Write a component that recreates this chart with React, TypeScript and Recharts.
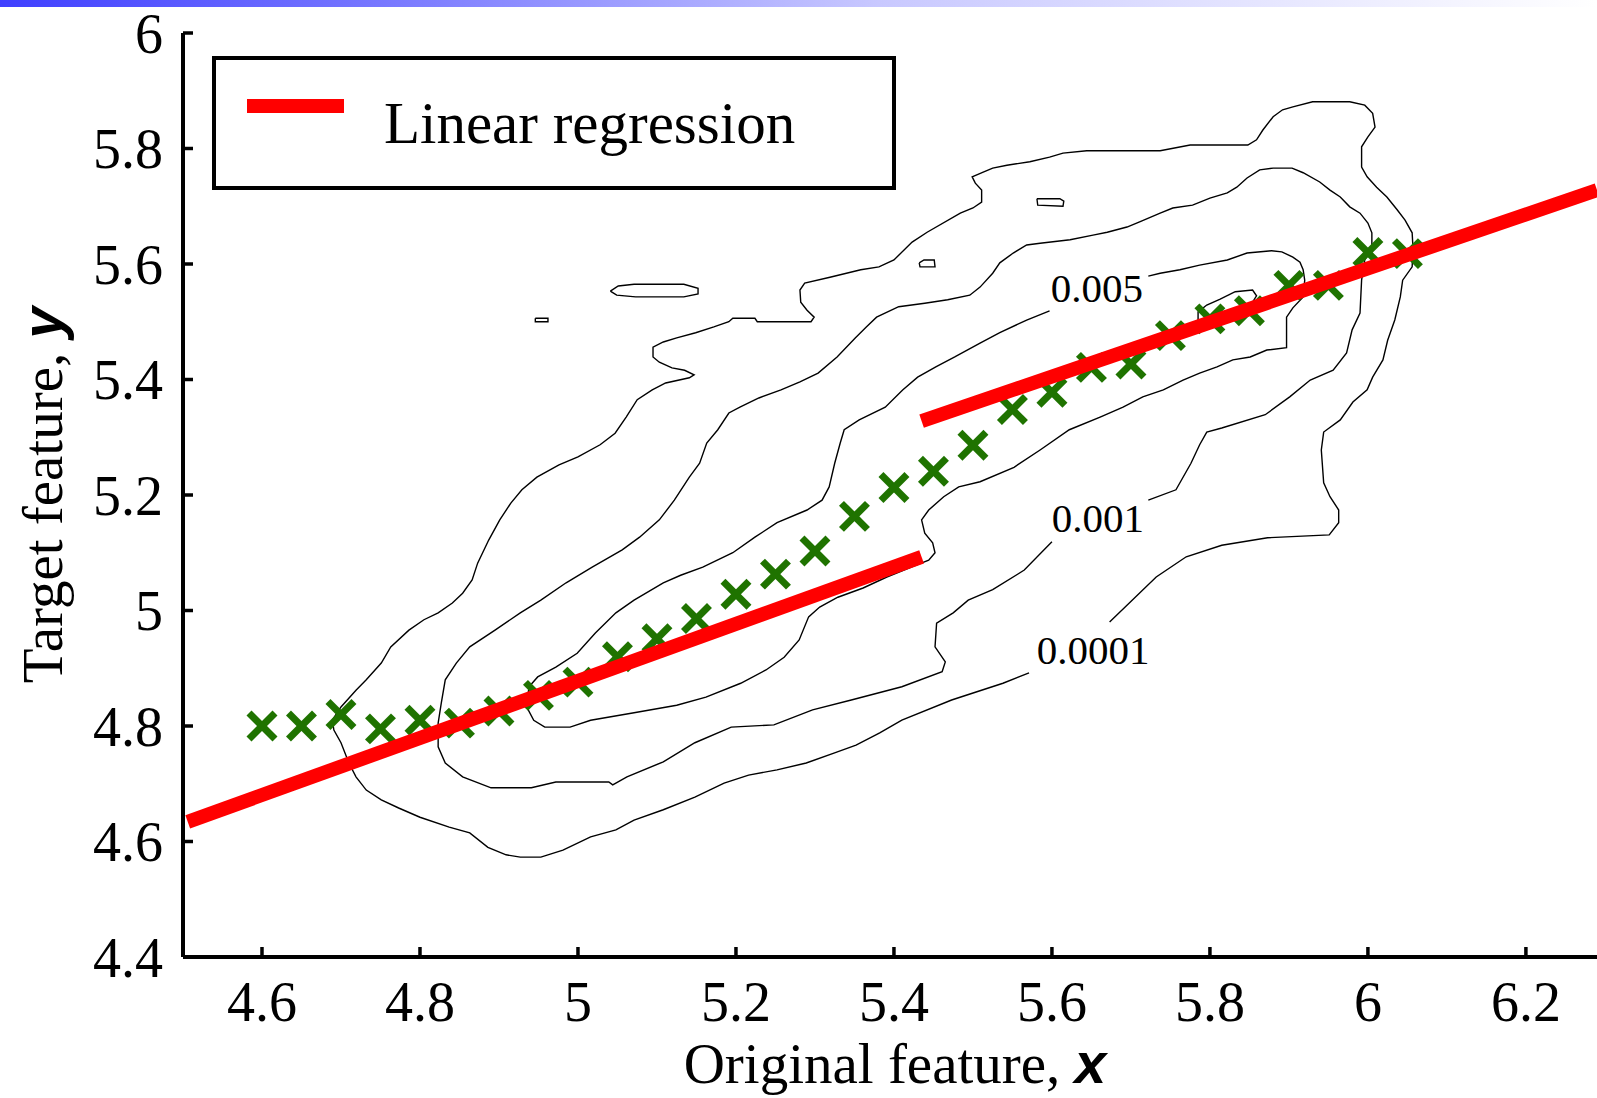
import React from "react";
import { ScatterChart, Scatter, XAxis, YAxis, Legend, Label } from "recharts";

type Pt = [number, number];

const xTicks = [4.6, 4.8, 5, 5.2, 5.4, 5.6, 5.8, 6, 6.2];
const yTicks = [4.4, 4.6, 4.8, 5, 5.2, 5.4, 5.6, 5.8, 6];

// binned means of y for each x bin (green crosses)
const binCentres = [
  4.6, 4.65, 4.7, 4.75, 4.8, 4.85, 4.9, 4.95, 5.0, 5.05, 5.1, 5.15, 5.2, 5.25, 5.3,
  5.35, 5.4, 5.45, 5.5, 5.55, 5.6, 5.65, 5.7, 5.75, 5.8, 5.85, 5.9, 5.95, 6.0, 6.05,
];
const binMeans = [
  4.8, 4.8, 4.82, 4.795, 4.81, 4.805, 4.826, 4.853, 4.876, 4.92, 4.951, 4.986, 5.028, 5.063, 5.103,
  5.163, 5.213, 5.241, 5.286, 5.348, 5.378, 5.421, 5.427, 5.476, 5.505, 5.519, 5.563, 5.563, 5.62, 5.618,
];

// two linear fits
const fitLow: Pt[] = [[4.506, 4.634], [5.435, 5.093]];
const fitHigh: Pt[] = [[5.435, 5.328], [6.29, 5.728]];

// density contours (open where the level label sits)
const contour0001: Pt[] = [
  [5.673, 4.98], [5.732, 5.058], [5.77, 5.093], [5.815, 5.113], [5.873, 5.126], [5.951, 5.131],
  [5.963, 5.152], [5.963, 5.174], [5.952, 5.197], [5.944, 5.221], [5.941, 5.278], [5.944, 5.309],
  [5.965, 5.33], [5.981, 5.361], [5.999, 5.382], [6.006, 5.404], [6.019, 5.434], [6.025, 5.468],
  [6.034, 5.503], [6.041, 5.543], [6.044, 5.572], [6.056, 5.595], [6.057, 5.629], [6.056, 5.654],
  [6.047, 5.676], [6.037, 5.694], [6.024, 5.716], [6.011, 5.733], [5.999, 5.751], [5.992, 5.768],
  [5.992, 5.803], [6.0, 5.82], [6.009, 5.837], [6.006, 5.861], [5.996, 5.875], [5.977, 5.881],
  [5.93, 5.881], [5.905, 5.872], [5.892, 5.867], [5.88, 5.855], [5.867, 5.832], [5.859, 5.815],
  [5.848, 5.806], [5.775, 5.806], [5.737, 5.796], [5.644, 5.796], [5.614, 5.792], [5.597, 5.785],
  [5.572, 5.777], [5.543, 5.771], [5.525, 5.766], [5.513, 5.759], [5.499, 5.751], [5.503, 5.74],
  [5.511, 5.728], [5.511, 5.707], [5.5, 5.697], [5.484, 5.688], [5.442, 5.655], [5.423, 5.638],
  [5.4, 5.607], [5.381, 5.595], [5.358, 5.59], [5.319, 5.577], [5.287, 5.567], [5.281, 5.555],
  [5.282, 5.534], [5.29, 5.52], [5.299, 5.508], [5.295, 5.5], [5.227, 5.5], [5.224, 5.506],
  [5.196, 5.506], [5.191, 5.5], [5.172, 5.491], [5.149, 5.481], [5.125, 5.472], [5.108, 5.465],
  [5.095, 5.456], [5.095, 5.439], [5.103, 5.43], [5.119, 5.42], [5.135, 5.416], [5.147, 5.408],
  [5.141, 5.403], [5.111, 5.394], [5.094, 5.382], [5.075, 5.365], [5.061, 5.335], [5.047, 5.307],
  [5.028, 5.287], [5.0, 5.266], [4.976, 5.252], [4.948, 5.231], [4.929, 5.209], [4.915, 5.186],
  [4.901, 5.157], [4.887, 5.122], [4.873, 5.082], [4.866, 5.053], [4.854, 5.03], [4.841, 5.013],
  [4.823, 4.996], [4.805, 4.984], [4.786, 4.966], [4.763, 4.937], [4.751, 4.909], [4.732, 4.88],
  [4.719, 4.862], [4.7, 4.833], [4.689, 4.81], [4.691, 4.793], [4.7, 4.771], [4.71, 4.736],
  [4.719, 4.712], [4.732, 4.689], [4.751, 4.672], [4.773, 4.658], [4.8, 4.642], [4.837, 4.625],
  [4.863, 4.615], [4.886, 4.59], [4.909, 4.577], [4.927, 4.573], [4.953, 4.573], [4.981, 4.585],
  [5.016, 4.608], [5.048, 4.62], [5.071, 4.637], [5.108, 4.655], [5.148, 4.677], [5.185, 4.701],
  [5.216, 4.715], [5.252, 4.724], [5.289, 4.736], [5.324, 4.753], [5.352, 4.767], [5.382, 4.788],
  [5.41, 4.81], [5.473, 4.845], [5.538, 4.874], [5.571, 4.892],
];

const contour001: Pt[] = [
  [5.722, 5.191], [5.757, 5.209], [5.776, 5.255], [5.787, 5.287], [5.796, 5.309], [5.815, 5.316],
  [5.87, 5.339], [5.901, 5.37], [5.927, 5.399], [5.956, 5.416], [5.973, 5.446], [5.98, 5.486],
  [5.99, 5.515], [5.992, 5.572], [5.996, 5.607], [6.005, 5.629], [6.005, 5.654], [6.0, 5.671],
  [5.99, 5.688], [5.977, 5.699], [5.965, 5.716], [5.952, 5.728], [5.939, 5.742], [5.918, 5.758],
  [5.904, 5.766], [5.88, 5.766], [5.863, 5.763], [5.847, 5.749], [5.834, 5.733], [5.822, 5.723],
  [5.8, 5.714], [5.778, 5.702], [5.753, 5.697], [5.737, 5.688], [5.711, 5.673], [5.695, 5.664],
  [5.67, 5.655], [5.652, 5.65], [5.623, 5.642], [5.585, 5.636], [5.568, 5.633], [5.551, 5.619],
  [5.534, 5.602], [5.525, 5.584], [5.509, 5.56], [5.496, 5.546], [5.468, 5.538], [5.439, 5.532],
  [5.406, 5.526], [5.378, 5.508], [5.365, 5.491], [5.351, 5.472], [5.328, 5.439], [5.304, 5.411],
  [5.281, 5.396], [5.257, 5.382], [5.229, 5.368], [5.205, 5.352], [5.191, 5.342], [5.177, 5.313],
  [5.163, 5.29], [5.154, 5.255], [5.141, 5.231], [5.122, 5.191], [5.103, 5.157], [5.078, 5.127],
  [5.056, 5.105], [5.018, 5.075], [4.985, 5.048], [4.953, 5.018], [4.927, 4.996], [4.895, 4.966],
  [4.863, 4.937], [4.846, 4.909], [4.832, 4.88], [4.827, 4.84], [4.823, 4.805], [4.823, 4.764],
  [4.832, 4.736], [4.854, 4.712], [4.89, 4.693], [4.941, 4.693], [4.972, 4.703], [5.039, 4.703],
  [5.044, 4.698], [5.062, 4.712], [5.108, 4.738], [5.148, 4.771], [5.194, 4.798], [5.248, 4.802],
  [5.297, 4.828], [5.346, 4.845], [5.41, 4.868], [5.461, 4.894], [5.465, 4.911], [5.452, 4.937],
  [5.454, 4.978], [5.475, 4.996], [5.494, 5.018], [5.525, 5.036], [5.565, 5.07], [5.6, 5.119],
];

const contour005: Pt[] = [
  [5.722, 5.579], [5.737, 5.584], [5.762, 5.59], [5.787, 5.598], [5.822, 5.607], [5.847, 5.619],
  [5.878, 5.623], [5.891, 5.621], [5.905, 5.612], [5.914, 5.603], [5.918, 5.59], [5.92, 5.572],
  [5.918, 5.543], [5.905, 5.524], [5.897, 5.508], [5.897, 5.455], [5.872, 5.451], [5.851, 5.439],
  [5.829, 5.434], [5.809, 5.422], [5.787, 5.411], [5.766, 5.399], [5.741, 5.382], [5.715, 5.37],
  [5.69, 5.352], [5.661, 5.335], [5.622, 5.313], [5.585, 5.278], [5.552, 5.248], [5.509, 5.223],
  [5.482, 5.214], [5.463, 5.197], [5.444, 5.174], [5.435, 5.157], [5.439, 5.134], [5.449, 5.117],
  [5.452, 5.1], [5.444, 5.087], [5.422, 5.075], [5.391, 5.058], [5.361, 5.039], [5.329, 5.023],
  [5.306, 5.006], [5.292, 4.989], [5.28, 4.949], [5.261, 4.919], [5.238, 4.897], [5.206, 4.874],
  [5.162, 4.85], [5.125, 4.836], [5.071, 4.823], [5.016, 4.81], [4.99, 4.798], [4.958, 4.798],
  [4.944, 4.81], [4.935, 4.833], [4.938, 4.868], [4.949, 4.885], [4.972, 4.902], [4.999, 4.926],
  [5.022, 4.961], [5.048, 4.996], [5.071, 5.018], [5.108, 5.048], [5.13, 5.061], [5.158, 5.075],
  [5.196, 5.1], [5.224, 5.127], [5.252, 5.152], [5.29, 5.174], [5.309, 5.191], [5.318, 5.214],
  [5.325, 5.255], [5.332, 5.29], [5.337, 5.313], [5.356, 5.33], [5.389, 5.352], [5.411, 5.382],
  [5.43, 5.404], [5.453, 5.422], [5.477, 5.439], [5.509, 5.463], [5.534, 5.481], [5.568, 5.503],
  [5.597, 5.519],
];

const contourPeak: Pt[] = [
  [5.785, 5.5], [5.785, 5.517], [5.796, 5.529], [5.813, 5.539], [5.832, 5.552], [5.854, 5.555],
  [5.859, 5.545], [5.853, 5.532], [5.838, 5.52], [5.819, 5.51], [5.8, 5.5], [5.785, 5.5],
];

const islands: Pt[][] = [
  [[5.041, 5.553], [5.051, 5.562], [5.071, 5.565], [5.134, 5.565], [5.152, 5.558], [5.152, 5.548],
   [5.134, 5.543], [5.073, 5.543], [5.049, 5.546], [5.041, 5.553]],
  [[4.946, 5.506], [4.962, 5.506], [4.962, 5.5], [4.946, 5.5], [4.946, 5.506]],
  [[5.581, 5.713], [5.582, 5.702], [5.614, 5.7], [5.615, 5.709], [5.61, 5.713], [5.581, 5.713]],
  [[5.432, 5.602], [5.438, 5.607], [5.451, 5.607], [5.452, 5.595], [5.433, 5.595], [5.432, 5.602]],
];

const contourLabels = [
  { x: 5.657, y: 5.559, text: "0.005" },
  { x: 5.658, y: 5.161, text: "0.001" },
  { x: 5.652, y: 4.932, text: "0.0001" },
];

const SERIF = "'Liberation Serif', 'Times New Roman', serif";
const SANS = "'Liberation Sans', Arial, sans-serif";
const GREEN = "#1f7300";
const RED = "#ff0000";

const toXY = (pts: Pt[]) => pts.map(([x, y]) => ({ x, y }));
const binData = binCentres.map((x, i) => ({ x, y: binMeans[i] }));

const noDot = () => <g />;

const CrossMark = (props: any) => {
  const { cx, cy } = props;
  const s = 13;
  return (
    <g stroke={GREEN} strokeWidth={7}>
      <line x1={cx - s} y1={cy - s} x2={cx + s} y2={cy + s} />
      <line x1={cx - s} y1={cy + s} x2={cx + s} y2={cy - s} />
    </g>
  );
};

const LevelText = (props: any) => {
  const { cx, cy, payload } = props;
  return (
    <text x={cx} y={cy} dy="0.35em" textAnchor="middle" fontFamily={SERIF} fontSize={41} fill="#000">
      {payload.text}
    </text>
  );
};

const XTitle = (props: any) => {
  const vb = props.viewBox || { x: 183, y: 957 };
  return (
    <text x={vb.x + 712} y={vb.y + 126} textAnchor="middle" fontFamily={SERIF} fontSize={57} fill="#000">
      Original feature,{" "}
      <tspan fontFamily={SANS} fontStyle="italic" fontWeight="bold">x</tspan>
    </text>
  );
};

const YTitle = (props: any) => {
  const vb = props.viewBox || { x: 0, y: 33, height: 924 };
  const tx = vb.x + 62;
  const ty = vb.y + vb.height / 2;
  return (
    <text x={tx} y={ty} transform={`rotate(-90, ${tx}, ${ty})`} textAnchor="middle" fontFamily={SERIF} fontSize={57} fill="#000">
      Target feature,{" "}
      <tspan fontFamily={SANS} fontStyle="italic" fontWeight="bold">y</tspan>
    </text>
  );
};

const LegendBox = (props: any) => {
  const entry = (props.payload || []).find((p: any) => p.value === "Linear regression");
  const colour = entry?.color || RED;
  return (
    <svg width={684} height={134}>
      <rect x={2} y={2} width={680} height={130} fill="#fff" stroke="#000" strokeWidth={4} />
      <line x1={35} y1={50} x2={132} y2={50} stroke={colour} strokeWidth={14} />
      <text x={172} y={87} fontFamily={SERIF} fontSize={59} fill="#000">
        Linear regression
      </text>
    </svg>
  );
};

export default function App() {
  const contourLine = { stroke: "#000", strokeWidth: 1.4 };
  return (
    <div style={{ position: "absolute", left: 0, top: 0, width: 1597, height: 1098, background: "#fff", overflow: "hidden" }}>
      <div style={{ position: "absolute", left: 0, top: 0, width: 1597, height: 7, background: "linear-gradient(to right, #3f3fff, #7a7aff 25%, #c8c8ff 55%, #ffffff)" }} />
      <ScatterChart width={1597} height={1098} margin={{ top: 33, right: 0, bottom: 0, left: 0 }}>
        <XAxis
          type="number"
          dataKey="x"
          domain={[4.5, 6.29]}
          allowDataOverflow
          ticks={xTicks}
          interval={0}
          height={141}
          axisLine={{ stroke: "#000", strokeWidth: 4 }}
          tickLine={{ stroke: "#000", strokeWidth: 3.5 }}
          tickSize={-10}
          tickMargin={34}
          tick={{ fontFamily: SERIF, fontSize: 56, fill: "#000" }}
        >
          <Label content={XTitle} />
        </XAxis>
        <YAxis
          type="number"
          dataKey="y"
          domain={[4.4, 6]}
          allowDataOverflow
          ticks={yTicks}
          interval={0}
          width={183}
          axisLine={{ stroke: "#000", strokeWidth: 4 }}
          tickLine={{ stroke: "#000", strokeWidth: 3.5 }}
          tickSize={-10}
          tickMargin={30}
          tick={{ fontFamily: SERIF, fontSize: 56, fill: "#000" }}
        >
          <Label content={YTitle} />
        </YAxis>

        <Scatter name="p=0.0001" data={toXY(contour0001)} line={contourLine} shape={noDot} legendType="none" isAnimationActive={false} />
        <Scatter name="p=0.001" data={toXY(contour001)} line={contourLine} shape={noDot} legendType="none" isAnimationActive={false} />
        <Scatter name="p=0.005" data={toXY(contour005)} line={contourLine} shape={noDot} legendType="none" isAnimationActive={false} />
        <Scatter name="peak" data={toXY(contourPeak)} line={contourLine} shape={noDot} legendType="none" isAnimationActive={false} />
        {islands.map((isl, i) => (
          <Scatter key={i} name={`island${i}`} data={toXY(isl)} line={contourLine} shape={noDot} legendType="none" isAnimationActive={false} />
        ))}
        <Scatter name="levels" data={contourLabels} shape={LevelText} legendType="none" isAnimationActive={false} />

        <Scatter name="Binned mean" data={binData} shape={CrossMark} legendType="none" isAnimationActive={false} />

        <Scatter name="Linear regression" data={toXY(fitLow)} fill={RED} line={{ stroke: RED, strokeWidth: 14 }} shape={noDot} legendType="line" isAnimationActive={false} />
        <Scatter name="Linear regression (upper)" data={toXY(fitHigh)} fill={RED} line={{ stroke: RED, strokeWidth: 14 }} shape={noDot} legendType="none" isAnimationActive={false} />

        <Legend
          layout="vertical"
          align="center"
          verticalAlign="middle"
          wrapperStyle={{ left: 212, top: 56, width: 684, height: 134 }}
          content={LegendBox}
        />
      </ScatterChart>
    </div>
  );
}
